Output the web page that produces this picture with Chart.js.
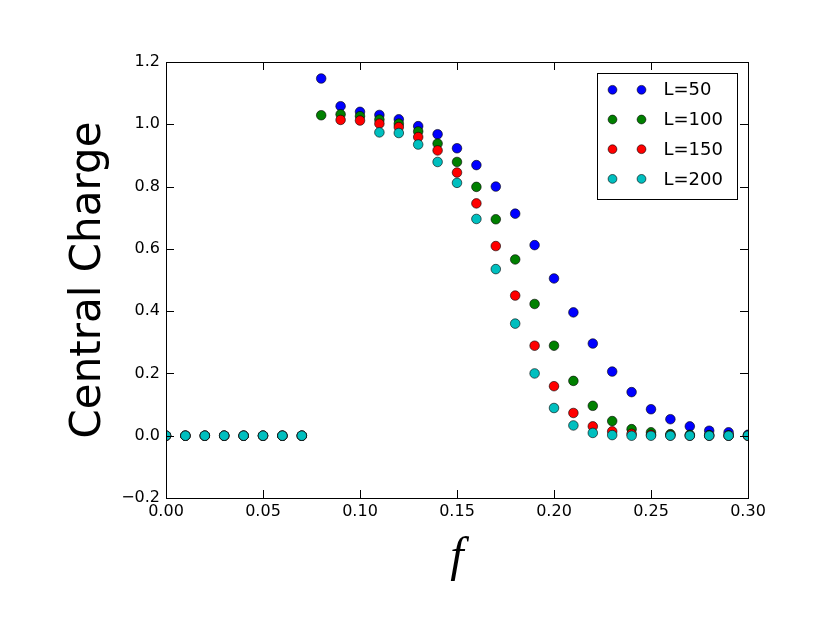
<!DOCTYPE html>
<html>
<head>
<meta charset="utf-8">
<title>Central Charge</title>
<script src="https://cdn.jsdelivr.net/npm/chart.js@4.4.1/dist/chart.umd.min.js"></script>
<style>
  html, body { margin: 0; padding: 0; background: #fff; }
  #wrap { width: 830px; height: 623px; }
</style>
</head>
<body>
<div id="wrap"><canvas id="chart" width="830" height="623"></canvas></div>
<script>
// f values along the x axis
const fValues = [0.00, 0.01, 0.02, 0.03, 0.04, 0.05, 0.06, 0.07, 0.08, 0.09, 0.10,
  0.11, 0.12, 0.13, 0.14, 0.15, 0.16, 0.17, 0.18, 0.19, 0.20,
  0.21, 0.22, 0.23, 0.24, 0.25, 0.26, 0.27, 0.28, 0.29, 0.30];

// central charge per system size (null = no point shown)
const chargeL50 = [0, 0, 0, 0, 0, 0, 0, 0, 1.147, 1.058, 1.040,
  1.030, 1.016, 0.994, 0.968, 0.923, 0.869, 0.800, 0.713, 0.612, 0.505,
  0.396, 0.296, 0.206, 0.140, 0.085, 0.053, 0.030, 0.016, 0.011, 0.003];
const chargeL100 = [0, 0, 0, 0, 0, 0, 0, 0, 1.029, 1.032, 1.026,
  1.015, 1.002, 0.977, 0.938, 0.879, 0.799, 0.695, 0.566, 0.423, 0.289,
  0.176, 0.096, 0.047, 0.021, 0.011, 0.005, 0.003, 0.002, 0.001, 0];
const chargeL150 = [0, 0, 0, 0, 0, 0, 0, 0, null, 1.014, 1.012,
  1.002, 0.991, 0.959, 0.916, 0.845, 0.746, 0.609, 0.450, 0.289, 0.159,
  0.073, 0.030, 0.014, 0.006, 0.003, 0.001, 0, 0, 0, 0];
const chargeL200 = [0, 0, 0, 0, 0, 0, 0, 0, null, null, null,
  0.974, 0.972, 0.935, 0.879, 0.812, 0.696, 0.535, 0.360, 0.200, 0.089,
  0.033, 0.009, 0.002, 0, 0, 0, 0, 0, 0, 0];

const seriesLabels = ['L=50', 'L=100', 'L=150', 'L=200'];
const seriesColors = ['#0000ff', '#008000', '#ff0000', '#00bfbf'];

const toPoints = (vals) => vals
  .map((v, i) => ({ x: fValues[i], y: v }))
  .filter(p => p.y !== null);

const makeDataset = (label, vals, color, order) => ({
  label,
  data: toPoints(vals),
  backgroundColor: color,
  borderColor: '#000',
  borderWidth: 0.6,
  pointRadius: 4.8,
  pointHoverRadius: 4.8,
  order,
  clip: 0,
});

// matplotlib-like frame with inward ticks on all four sides
const frameTicks = {
  id: 'frameTicks',
  afterDatasetsDraw(chart) {
    const { ctx, chartArea: a, scales: { x, y } } = chart;
    const len = 8;
    ctx.save();
    ctx.strokeStyle = '#000';
    ctx.lineWidth = 1;
    ctx.beginPath();
    x.ticks.forEach(t => {
      const px = Math.round(x.getPixelForValue(t.value)) + 0.5;
      ctx.moveTo(px, a.bottom); ctx.lineTo(px, a.bottom - len);
      ctx.moveTo(px, a.top); ctx.lineTo(px, a.top + len);
    });
    y.ticks.forEach(t => {
      const py = Math.round(y.getPixelForValue(t.value)) + 0.5;
      ctx.moveTo(a.left, py); ctx.lineTo(a.left + len, py);
      ctx.moveTo(a.right, py); ctx.lineTo(a.right - len, py);
    });
    ctx.stroke();
    ctx.strokeRect(Math.round(a.left) + 0.5, Math.round(a.top) + 0.5,
      Math.round(a.width), Math.round(a.height));
    ctx.restore();
  }
};

// boxed legend inside the upper right corner, two markers per entry
const boxLegend = {
  id: 'boxLegend',
  afterDraw(chart) {
    const { ctx, chartArea: a } = chart;
    const w = 140, h = 126, rowH = 29.7;
    const x0 = Math.round(a.right - 11 - w) + 0.5;
    const y0 = Math.round(a.top + 11) + 0.5;
    ctx.save();
    ctx.fillStyle = '#fff';
    ctx.fillRect(x0, y0, w, h);
    ctx.strokeStyle = '#000';
    ctx.lineWidth = 1;
    ctx.strokeRect(x0, y0, w, h);
    chart.data.datasets.forEach((ds, i) => {
      const cy = y0 + 16.3 + i * rowH;
      [x0 + 15, x0 + 44].forEach(mx => {
        ctx.beginPath();
        ctx.arc(mx, cy, 4.4, 0, Math.PI * 2);
        ctx.fillStyle = ds.backgroundColor;
        ctx.fill();
        ctx.lineWidth = 0.6;
        ctx.strokeStyle = '#000';
        ctx.stroke();
      });
      ctx.fillStyle = '#000';
      ctx.font = '18px "DejaVu Sans"';
      ctx.textBaseline = 'middle';
      ctx.textAlign = 'left';
      ctx.fillText(ds.label, x0 + 66, cy + 1);
    });
    ctx.restore();
  }
};

const tickFont = { family: 'DejaVu Sans', size: 16 };

new Chart(document.getElementById('chart'), {
  type: 'scatter',
  data: {
    datasets: [
      makeDataset(seriesLabels[0], chargeL50, seriesColors[0], 4),
      makeDataset(seriesLabels[1], chargeL100, seriesColors[1], 3),
      makeDataset(seriesLabels[2], chargeL150, seriesColors[2], 2),
      makeDataset(seriesLabels[3], chargeL200, seriesColors[3], 1),
    ],
  },
  options: {
    responsive: false,
    animation: false,
    devicePixelRatio: 1,
    layout: { padding: { left: 60, top: 62, right: 82, bottom: 32 } },
    plugins: {
      legend: { display: false },
      tooltip: { enabled: false },
    },
    scales: {
      x: {
        type: 'linear',
        min: 0,
        max: 0.3,
        grid: { display: false, drawTicks: false },
        border: { display: false },
        ticks: {
          stepSize: 0.05,
          color: '#000',
          font: tickFont,
          padding: 4,
          maxRotation: 0,
          callback: v => v.toFixed(2),
        },
        title: {
          display: true,
          text: 'f',
          color: '#000',
          font: { family: 'Liberation Serif', size: 48, style: 'italic' },
        },
        afterFit(s) { s.height = 93; },
      },
      y: {
        min: -0.2,
        max: 1.2,
        grid: { display: false, drawTicks: false },
        border: { display: false },
        ticks: {
          stepSize: 0.2,
          color: '#000',
          font: tickFont,
          padding: 6,
          callback: v => (Math.abs(v) < 1e-9 ? '0.0' : v.toFixed(1).replace('-', '\u2212')),
        },
        title: {
          display: true,
          text: 'Central Charge',
          color: '#000',
          font: { family: 'DejaVu Sans', size: 42 },
        },
        afterFit(s) { s.width = 106; },
      },
    },
  },
  plugins: [frameTicks, boxLegend],
});
</script>
</body>
</html>
